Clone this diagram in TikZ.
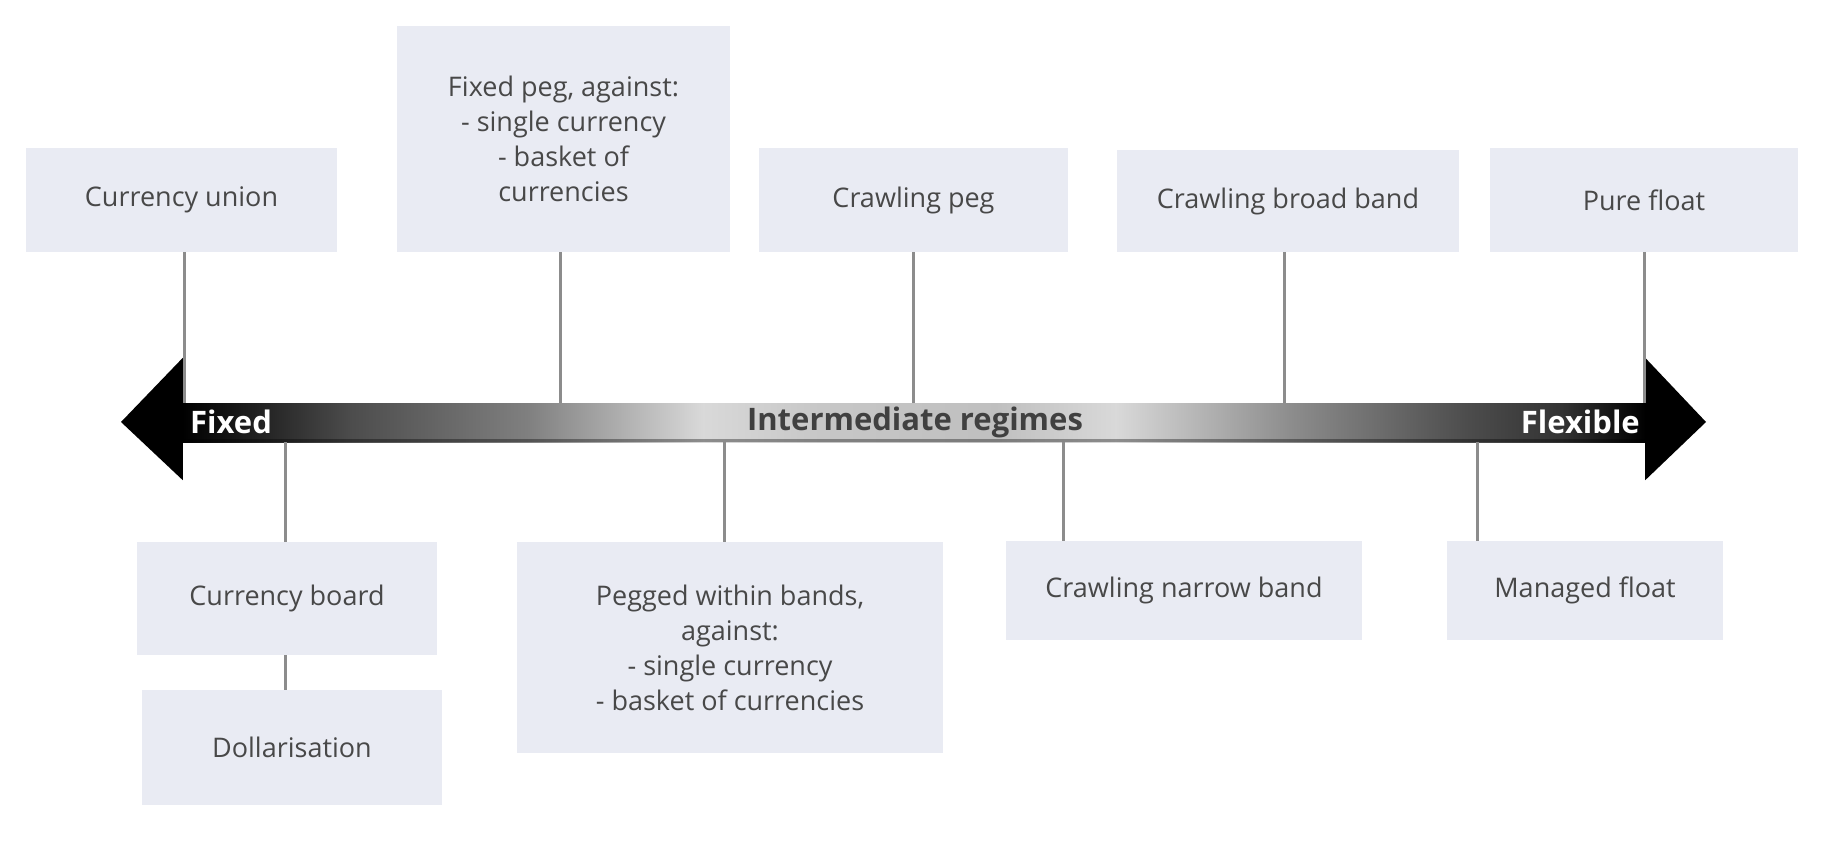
\documentclass[tikz,border=0pt]{standalone}
\usepackage{fontspec}
\setmainfont{Open Sans}
\usetikzlibrary{positioning}

% colour ramp of the regime axis, left (fixed) to right (flexible)
\pgfdeclarehorizontalshading{regimeaxis}{100bp}{%
  color(0bp)=(black);
  color(25bp)=(black);
  color(28bp)=(black!85);
  color(30.8bp)=(black!70);
  color(36.8bp)=(black!50);
  color(42.8bp)=(black!15);
  color(46.8bp)=(black!22);
  color(52.8bp)=(black!25);
  color(56.9bp)=(black!15);
  color(62.9bp)=(black!45);
  color(68.9bp)=(black!70);
  color(72.1bp)=(black!80);
  color(75bp)=(black);
  color(100bp)=(black)}

\definecolor{boxfill}{RGB}{233,235,243}
\definecolor{boxtext}{RGB}{72,72,72}
\definecolor{linkgray}{RGB}{140,140,140}

\tikzset{
  regime/.style={fill=boxfill, draw=none, text=boxtext, align=center,
    font=\fontsize{27}{35}\selectfont, inner sep=0pt},
  link/.style={draw=linkgray, line width=3pt},
  axislabel/.style={font=\fontsize{31}{31}\selectfont\bfseries, inner sep=0pt}
}

\begin{document}
\begin{tikzpicture}[x=1pt, y=-1pt]
  \useasboundingbox (0,0) rectangle (1840,845);
  \fill[white] (0,0) rectangle (1840,845);

  % upper row of regimes
  \node[regime, minimum width=311pt, minimum height=104pt] (cu)  at (181.5,200) {Currency union};
  \node[regime, minimum width=333pt, minimum height=226pt] (fp)  at (563.5,139)
    {Fixed peg, against:\\- single currency\\- basket of\\currencies};
  \node[regime, minimum width=309pt, minimum height=104pt] (cp)  at (913.5,200) {Crawling peg};
  \node[regime, minimum width=342pt, minimum height=102pt] (cbb) at (1288,201) {Crawling broad band};
  \node[regime, minimum width=308pt, minimum height=104pt] (pf)  at (1644,200) {Pure float};

  % lower row of regimes
  \node[regime, minimum width=300pt, minimum height=113pt] (cb)  at (287,598.5) {Currency board};
  \node[regime, minimum width=300pt, minimum height=115pt] (dol) at (292,747.5) {Dollarisation};
  \node[regime, minimum width=426pt, minimum height=211pt] (pwb) at (730,647.5)
    {Pegged within bands,\\against:\\- single currency\\- basket of currencies};
  \node[regime, minimum width=356pt, minimum height=99pt]  (cnb) at (1184,590.5) {Crawling narrow band};
  \node[regime, minimum width=276pt, minimum height=99pt]  (mf)  at (1585,590.5) {Managed float};

  % the regime axis
  \node[shading=regimeaxis, draw=none, minimum width=1464pt, minimum height=39pt, inner sep=0pt]
    (bar) at (914,422.5) {};
  \fill[black] (bar.north west) ++(1,-45) -- (121,422) -- ([xshift=1pt,yshift=-38pt]bar.south west) -- cycle;
  \fill[black] (bar.north east) ++(-1,-45) -- (1706,422) -- ([xshift=-1pt,yshift=-38pt]bar.south east) -- cycle;
  \fill[black, opacity=0.35] (bar.south west) rectangle ([yshift=3pt]bar.south east);

  \node[axislabel, text=white, anchor=west] (fixed) at (190,422) {Fixed};
  \node[axislabel, text=white, anchor=east] (flex)  at (1640,422) {Flexible};
  \node[axislabel, text=black!75] (mid) at (915,422) {Intermediate regimes};

  % attachment points on the axis
  \coordinate (a1) at (184,0);
  \coordinate (a2) at (560,0);
  \coordinate (a3) at (913,0);
  \coordinate (a4) at (1284,0);
  \coordinate (a5) at (1644,0);
  \coordinate (b1) at (285,0);
  \coordinate (b2) at (724,0);
  \coordinate (b3) at (1063,0);
  \coordinate (b4) at (1477,0);

  % links from the upper boxes down to the axis
  \draw[link] (a1 |- cu.south)  -- (a1 |- bar.north);
  \draw[link] (a2 |- fp.south)  -- (a2 |- bar.north);
  \draw[link] (a3 |- cp.south)  -- (a3 |- bar.north);
  \draw[link] (a4 |- cbb.south) -- (a4 |- bar.north);
  \draw[link] (a5 |- pf.south)  -- (a5 |- bar.north);

  % links from the axis down to the lower boxes
  \draw[link] (b1 |- bar.south) -- (b1 |- cb.north);
  \draw[link] (b1 |- cb.south)  -- (b1 |- dol.north);
  \draw[link] (b2 |- bar.south) -- (b2 |- pwb.north);
  \draw[link] (b3 |- bar.south) -- (b3 |- cnb.north);
  \draw[link] (b4 |- bar.south) -- (b4 |- mf.north);
\end{tikzpicture}
\end{document}
